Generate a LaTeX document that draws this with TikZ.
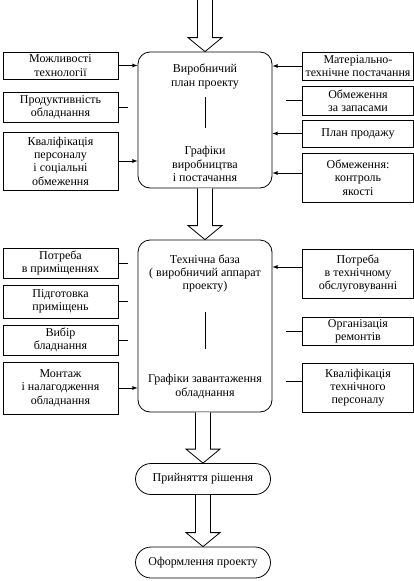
\documentclass[tikz,border=0pt]{standalone}
\usepackage{fontspec}
\setmainfont{Liberation Serif}
\usetikzlibrary{calc,arrows,positioning}
\newcommand{\hollowarrow}[2]{%
  \draw[line width=0.8pt,fill=white] let \p1=(#1), \p2=(#2) in
    (\x2-7.5pt,\y1) -- (\x2-7.5pt,\y2+14pt) -- (\x2-17pt,\y2+14pt) -- (\x2,\y2)
    -- (\x2+17pt,\y2+14pt) -- (\x2+7.5pt,\y2+14pt) -- (\x2+7.5pt,\y1);}

\begin{document}
\begin{tikzpicture}[x=1pt,y=-1pt,
    every node/.style={font=\fontsize{12}{13.3}\selectfont,align=center},
    sidebox/.style={draw,line width=0.8pt,inner sep=1pt},
    leftbox/.style={sidebox,minimum width=115pt},
    rightbox/.style={sidebox,minimum width=111pt},
    mainbox/.style={draw,line width=0.8pt,rounded corners=12pt,minimum width=134pt},
    endbox/.style={draw,line width=0.8pt,rounded corners=15.5pt,minimum width=135pt,minimum height=31pt},
    txt/.style={inner sep=0pt},
    feed/.style={line width=0.8pt,-latex},
    stub/.style={line width=0.8pt}]
                 \useasboundingbox (0,0) rectangle (413,581);
                 \coordinate (top) at (205,0);
                 \node[mainbox,minimum height=136pt](plan)at(205,120){};
                 \node[mainbox,minimum height=172pt](base)at(205,326){};
                 \node[endbox](decide)at(203,479){Прийняття рішення};
                 \node[endbox](design)at(203,562.5){Оформлення проекту};
                 \node[txt](plantxt)at(205,76.5){Виробничий\\план проекту};
                 \node[txt](plangr)at(205,164){Графіки\\виробництва\\і постачання};
                 \draw[stub,shorten <=8pt,shorten >=18pt](plantxt)--(plangr);
                 \node[txt](basetxt)at(205,273.5){Технічна база\\( виробничий аппарат\\проекту)};
                 \node[txt](basegr)at(205,386.5){Графіки завантаження\\обладнання};
                 \draw[stub,shorten <=19pt,shorten >=25pt](basetxt)--(basegr);
                 \hollowarrow{top}{plan.north}
                 \hollowarrow{plan.south}{base.north}
                 \hollowarrow{base.south}{decide.north}
                 \hollowarrow{decide.south}{design.north}
                 \node[leftbox,minimum height=27pt](l1)at(60.5,65.5){Можливості\\технології};
                 \node[leftbox,minimum height=30pt](l2)at(60.5,107){Продуктивність\\обладнання};
                 \node[leftbox,minimum height=58pt](l3)at(60.5,161){Кваліфікація\\персоналу\\і соціальні\\обмеження};
                 \node[leftbox,minimum height=30pt](l4)at(60.5,263){Потреба\\в приміщеннях};
                 \node[leftbox,minimum height=33pt](l5)at(60.5,301.5){Підготовка\\приміщень};
                 \node[leftbox,minimum height=30pt](l6)at(60.5,340){Вибір\\бладнання};
                 \node[leftbox,minimum height=52pt](l7)at(60.5,388){Монтаж\\і налагодження\\обладнання};
                 \node[rightbox,minimum height=28pt](r1)at(358,66){Матеріально-\\технічне постачання};
                 \node[rightbox,minimum height=29pt](r2)at(358,100.5){Обмеження\\за запасами};
                 \node[rightbox,minimum height=27pt](r3)at(358,133.5){План продажу};
                 \node[rightbox,minimum height=49pt](r4)at(358,177.5){Обмеження:\\контроль\\якості};
                 \node[rightbox,minimum height=49pt](r5)at(358,273.5){Потреба\\в технічному\\обслуговуванні};
                 \node[rightbox,minimum height=28pt](r6)at(358,331){Організація\\ремонтів};
                 \node[rightbox,minimum height=49pt](r7)at(358,387.5){Кваліфікація\\технічного\\персоналу};
                 \draw[feed](l1)--(l1-|plan.west);
                 \draw[stub](l2.east)--++(10,0);
                 \draw[feed](l3)--(l3-|plan.west);
                 \draw[stub](l4.east)--++(10,0);
                 \draw[stub](l5.east)--++(10,0);
                 \draw[stub](l6.east)--++(10,0);
                 \draw[feed](l7)--(l7-|base.west);
                 \draw[feed](r1)--(r1-|plan.east);
                 \draw[stub](r2.west)--++(-16,0);
                 \draw[feed](r3)--(r3-|plan.east);
                 \draw[feed]([yshift=4.5pt]r4.west)--([yshift=4.5pt]r4.west-|plan.east);
                 \draw[feed]([yshift=6.5pt]r5.west)--([yshift=6.5pt]r5.west-|base.east);
                 \draw[stub](r6.west)--++(-16,0);
                 \draw[stub]([yshift=6.5pt]r7.west)--++(-16,0);
               \end{tikzpicture}
\end{document}
